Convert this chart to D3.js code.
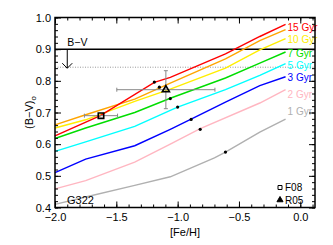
<!DOCTYPE html>
<html>
<head>
<meta charset="utf-8">
<script src="https://cdn.jsdelivr.net/npm/d3@7"></script>
<style>
  body { margin: 0; background: #fff; }
  text { font-family: "Liberation Sans", Arial, sans-serif; }
</style>
</head>
<body>
<div id="chart"></div>
<script>
// model tracks: [Fe/H] nodes and (B-V)o per age
const ages = ['1 Gyr', '2 Gyr', '3 Gyr', '5 Gyr', '7 Gyr', '10 Gyr', '12 Gyr', '15 Gyr']
const colors = ['#b0b0b0', '#ffb6c1', '#0000ff', '#00ffff', '#00dd00', '#ffee00', '#ffa500', '#ff0000']
const showLabel = [true, true, true, true, true, true, false, true]
const labelDy = [-8, 5, 1, 2, 1, 1, 0, 3]

const feh1 = [-2.0, -1.75, -1.35, -1.06, -0.7, -0.61, -0.33, -0.12]
const bv1 = [0.41, 0.433, 0.47, 0.497, 0.557, 0.575, 0.638, 0.679]
const feh2 = [-2.0, -1.75, -1.35, -1.06, -0.82, -0.33, -0.12]
const bv2 = [0.459, 0.485, 0.543, 0.60, 0.648, 0.730, 0.772]
const feh3 = [-2.0, -1.75, -1.35, -1.06, -0.89, -0.61, -0.33, -0.12]
const bv3 = [0.51, 0.553, 0.595, 0.647, 0.679, 0.733, 0.785, 0.813]
const feh5 = [-2.0, -1.75, -1.35, -1.06, -1.0, -0.61, -0.33, -0.12]
const bv5 = [0.577, 0.607, 0.656, 0.707, 0.717, 0.772, 0.817, 0.854]
const feh7 = [-2.0, -1.75, -1.35, -1.06, -0.61, -0.33, -0.12]
const bv7 = [0.618, 0.651, 0.70, 0.745, 0.809, 0.856, 0.891]
const feh10 = [-2.0, -1.75, -1.35, -1.06, -0.61, -0.33, -0.12]
const bv10 = [0.651, 0.677, 0.735, 0.774, 0.840, 0.898, 0.933]
const feh12 = [-2.0, -1.75, -1.35, -1.06, -0.61, -0.33, -0.12]
const bv12 = [0.661, 0.693, 0.742, 0.793, 0.869, 0.927, 0.962]
const feh15 = [-2.0, -1.63, -1.19, -1.06, -0.61, -0.33, -0.12]
const bv15 = [0.626, 0.69, 0.795, 0.811, 0.885, 0.94, 0.978]

const tracksFeh = [feh1, feh2, feh3, feh5, feh7, feh10, feh12, feh15]
const tracksBv = [bv1, bv2, bv3, bv5, bv7, bv10, bv12, bv15]

// solutions for G322 on each track
const dotFeh = [-1.19, -1.149, -1.06, -1.0, -0.89, -0.816, -0.61]
const dotBv = [0.796, 0.780, 0.744, 0.717, 0.678, 0.647, 0.575]

// observed points
const obsName = ['F08', 'R05']
const obsFeh = [-1.625, -1.096]
const obsFehErr = [0.135, 0.40]
const obsBv = [0.69, 0.772]
const obsBvErr = [0, 0.06]

const bvLimit = 0.9
const bvDotted = 0.843

const xTicks = [-2.0, -1.5, -1.0, -0.5, 0.0]
const yTicks = [0.4, 0.5, 0.6, 0.7, 0.8, 0.9, 1.0]

const width = 333, height = 245
const L = 55, R = 315, T = 17.5, B = 207.5

const svg = d3.select('#chart').append('svg')
   .attr('width', width)
   .attr('height', height)

const x = d3.scaleLinear().domain([-2.0, 0.12]).range([L, R])
const y = d3.scaleLinear().domain([0.4, 1.0]).range([B, T])

const plot = svg.append('g')

// limit line, dotted line, arrow
plot.append('line')
   .attr('x1', L).attr('x2', R)
   .attr('y1', y(bvLimit)).attr('y2', y(bvLimit))
   .attr('stroke', '#000').attr('stroke-width', 1.5)
plot.append('line')
   .attr('x1', L).attr('x2', R)
   .attr('y1', y(bvDotted)).attr('y2', y(bvDotted))
   .attr('stroke', '#999').attr('stroke-width', 1)
   .attr('stroke-dasharray', '1,1.5')
const ax = x(-1.9)
plot.append('path')
   .attr('d', `M${ax},${y(bvLimit)}V${y(bvDotted) + 1}M${ax - 5},${y(bvDotted) - 4}L${ax},${y(bvDotted) + 1}L${ax + 5},${y(bvDotted) - 4}`)
   .attr('fill', 'none').attr('stroke', '#000').attr('stroke-width', 1)
plot.append('text')
   .attr('x', ax).attr('y', y(bvLimit) - 3)
   .attr('font-size', 10.5)
   .text('B\u2212V')

// tracks
const line = d3.line().x(d => x(d[0])).y(d => y(d[1]))
tracksFeh.forEach((fe, i) => {
   const pts = fe.map((f, j) => [f, tracksBv[i][j]])
   plot.append('path')
      .datum(pts)
      .attr('d', line)
      .attr('fill', 'none')
      .attr('stroke', colors[i])
      .attr('stroke-width', 1.4)
   if (showLabel[i]) {
      const last = pts[pts.length - 1]
      plot.append('text')
         .attr('x', x(last[0]) + 2)
         .attr('y', y(last[1]) + 3.5 + labelDy[i])
         .attr('font-size', 10)
         .attr('fill', colors[i])
         .text(ages[i])
   }
})

// error bars
const ebColor = '#888'
obsName.forEach((n, i) => {
   const cx = x(obsFeh[i]), cy = y(obsBv[i])
   const x0 = x(obsFeh[i] - obsFehErr[i]), x1 = x(obsFeh[i] + obsFehErr[i])
   plot.append('path')
      .attr('d', `M${x0},${cy}H${x1}M${x0},${cy - 2}V${cy + 2}M${x1},${cy - 2}V${cy + 2}`)
      .attr('stroke', ebColor).attr('fill', 'none')
   if (obsBvErr[i] > 0) {
      const y0 = y(obsBv[i] - obsBvErr[i]), y1 = y(obsBv[i] + obsBvErr[i])
      plot.append('path')
         .attr('d', `M${cx},${y0}V${y1}M${cx - 2},${y0}H${cx + 2}M${cx - 2},${y1}H${cx + 2}`)
         .attr('stroke', ebColor).attr('fill', 'none')
   }
})

// dots
plot.selectAll('circle.dot')
   .data(dotFeh.map((f, i) => [f, dotBv[i]]))
   .enter()
   .append('circle')
   .attr('class', 'dot')
   .attr('cx', d => x(d[0]))
   .attr('cy', d => y(d[1]))
   .attr('r', 1.6)
   .attr('fill', '#000')

// observed markers
const sq = d3.symbol().type(d3.symbolSquare).size(30)
const tri = d3.symbol().type(d3.symbolTriangle).size(22)
plot.append('path')
   .attr('d', sq)
   .attr('transform', `translate(${x(obsFeh[0])},${y(obsBv[0])})`)
   .attr('fill', 'none').attr('stroke', '#000').attr('stroke-width', 1.6)
plot.append('path')
   .attr('d', tri)
   .attr('transform', `translate(${x(obsFeh[1])},${y(obsBv[1])})`)
   .attr('fill', 'none').attr('stroke', '#000').attr('stroke-width', 1.6)

// star name
plot.append('text')
   .attr('x', 67).attr('y', 204)
   .attr('font-size', 11)
   .text('G322')

// legend
const legY = [187.5, 200]
const legSym = [d3.symbol().type(d3.symbolSquare).size(16), d3.symbol().type(d3.symbolTriangle).size(16)]
obsName.forEach((n, i) => {
   plot.append('path')
      .attr('d', legSym[i])
      .attr('transform', `translate(280,${legY[i]})`)
      .attr('fill', i === 0 ? 'none' : '#000')
      .attr('stroke', '#000').attr('stroke-width', 1)
   plot.append('text')
      .attr('x', 285).attr('y', legY[i] + 3.5)
      .attr('font-size', 10)
      .text(n)
})

// axes (ticks inward)
const fmt = d3.format('.1f')
const xMinor = d3.range(-2.0, 0.121, 0.1)
const yMinor = d3.range(0.4, 1.001, 0.02)

const addAxis = (axis, tx, ty) => {
   const g = svg.append('g').attr('transform', `translate(${tx},${ty})`).call(axis)
   g.select('.domain').remove()
   g.selectAll('line').attr('stroke', '#000').attr('stroke-width', 1)
   g.selectAll('text').attr('font-size', 11).attr('fill', '#000')
      .style('font-family', '"Liberation Sans", Arial, sans-serif')
   return g
}

addAxis(d3.axisBottom(x).tickValues(xTicks).tickFormat(fmt).tickSize(-6).tickPadding(6), 0, B)
addAxis(d3.axisBottom(x).tickValues(xMinor).tickFormat('').tickSize(-3), 0, B)
addAxis(d3.axisTop(x).tickValues(xTicks).tickFormat('').tickSize(-6), 0, T)
addAxis(d3.axisTop(x).tickValues(xMinor).tickFormat('').tickSize(-3), 0, T)
addAxis(d3.axisLeft(y).tickValues(yTicks).tickFormat(fmt).tickSize(-6).tickPadding(4), L, 0)
addAxis(d3.axisLeft(y).tickValues(yMinor).tickFormat('').tickSize(-3), L, 0)
addAxis(d3.axisRight(y).tickValues(yTicks).tickFormat('').tickSize(-6), R, 0)
addAxis(d3.axisRight(y).tickValues(yMinor).tickFormat('').tickSize(-3), R, 0)

// frame
svg.append('rect')
   .attr('x', L).attr('y', T)
   .attr('width', R - L).attr('height', B - T)
   .attr('fill', 'none').attr('stroke', '#000').attr('stroke-width', 1.5)

// axis titles
svg.append('text')
   .attr('x', (L + R) / 2).attr('y', 236)
   .attr('text-anchor', 'middle')
   .attr('font-size', 11)
   .text('[Fe/H]')
const yl = svg.append('text')
   .attr('transform', `translate(33,${(T + B) / 2}) rotate(-90)`)
   .attr('text-anchor', 'middle')
   .attr('font-size', 11)
yl.append('tspan').text('(B\u2212V)')
yl.append('tspan').attr('font-size', 8).attr('dy', 3).text('o')
</script>
</body>
</html>
